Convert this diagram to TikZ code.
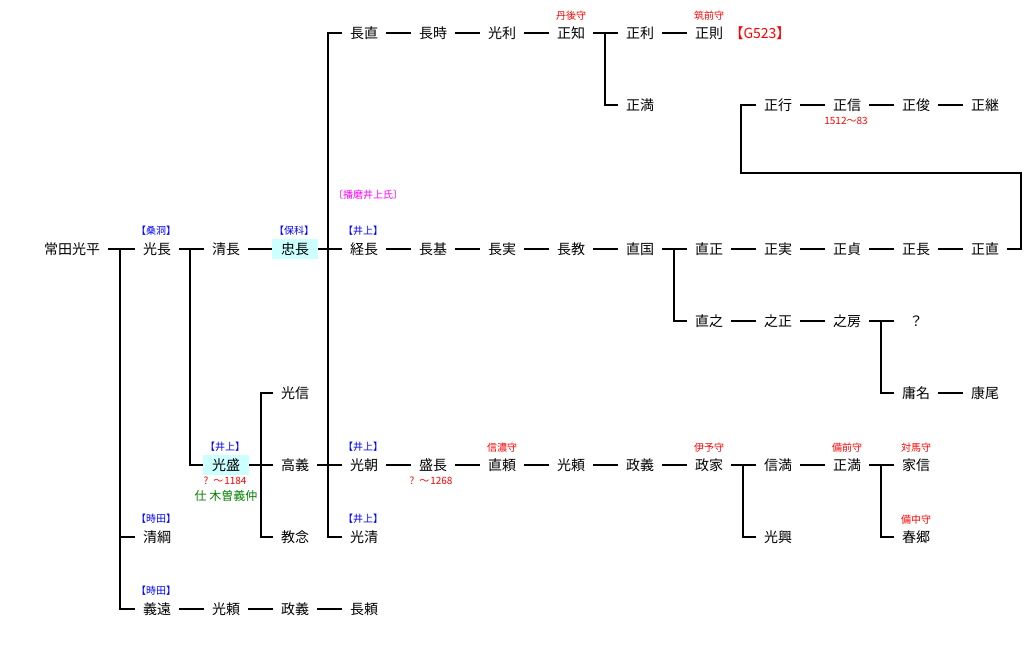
\documentclass[tikz,border=0pt]{standalone}
\usepackage{fontspec}
\newfontfamily\jp{Noto Sans CJK JP}
\usepackage{tikz}
\definecolor{hlcyan}{RGB}{204,255,255}
\definecolor{tagblue}{RGB}{0,0,255}
\definecolor{tagred}{RGB}{255,0,0}
\definecolor{tagpink}{RGB}{255,0,255}
\definecolor{taggreen}{RGB}{0,128,0}
\tikzset{
  person/.style={
    font=\jp\fontsize{14}{14}\selectfont,
    inner xsep=8pt,
    inner ysep=2pt
  },
  hl/.style={
    person,
    fill=hlcyan,
    inner xsep=9pt,
    minimum height=20pt
  },
  tag/.style={
    font=\jp\fontsize{10}{10}\selectfont,
    inner sep=0pt
  }
}
\tikzstyle{link} = [line width=1.1pt]
\def\clan#1{\textcolor{tagblue}{#1}}
\def\post#1{\textcolor{tagred}{#1}}

\begin{document}
\begin{tikzpicture}[x=1pt, y=-1pt]
    \useasboundingbox (0,0) rectangle (1029,646);
    \node[person] (hei) at (72, 249) {常田光平};
    \node[person] (mitsunaga) at (157, 249) {光長};
    \node[person] (kiyonaga) at (226, 249) {清長};
    \node[hl] (tadanaga) at (295, 249) {忠長};
    \node[person] (tsunenaga) at (364, 249) {経長};
    \node[person] (nagamoto) at (433, 249) {長基};
    \node[person] (nagazane) at (502, 249) {長実};
    \node[person] (naganori) at (571, 249) {長教};
    \node[person] (naokuni) at (640, 249) {直国};
    \node[person] (naomasa) at (709, 249) {直正};
    \node[person] (masazane) at (778, 249) {正実};
    \node[person] (masasada) at (847, 249) {正貞};
    \node[person] (masanaga) at (916, 249) {正長};
    \node[person] (masanao) at (985, 249) {正直};
    \node[person] (naganao) at (364, 33) {長直};
    \node[person] (nagatoki) at (433, 33) {長時};
    \node[person] (mitsutoshi) at (502, 33) {光利};
    \node[person] (masatomo) at (571, 33) {正知};
    \node[person] (masatoshi) at (640, 33) {正利};
    \node[person] (masanori) at (709, 33) {正則};
    \node[person, text=tagred] (g523) at (760, 33) {【G523】};
    \node[person] (masamitsu) at (640, 105) {正満};
    \node[person] (masayuki) at (778, 105) {正行};
    \node[person] (masanobu) at (847, 105) {正信};
    \node[person] (masatoshib) at (916, 105) {正俊};
    \node[person] (masatsugu) at (985, 105) {正継};
    \node[person] (naoyuki) at (709, 321) {直之};
    \node[person] (yukimasa) at (778, 321) {之正};
    \node[person] (yukifusa) at (847, 321) {之房};
    \node[person, minimum width=44pt] (unknown) at (916, 321) {？};
    \node[person] (mitsunobu) at (295, 393) {光信};
    \node[person] (youmei) at (916, 393) {庸名};
    \node[person] (yasuo) at (985, 393) {康尾};
    \node[hl] (mitsumori) at (226, 465) {光盛};
    \node[person] (takayoshi) at (295, 465) {高義};
    \node[person] (mitsutomo) at (364, 465) {光朝};
    \node[person] (morinaga) at (433, 465) {盛長};
    \node[person] (naoyori) at (502, 465) {直頼};
    \node[person] (mitsuyori) at (571, 465) {光頼};
    \node[person] (masayoshi) at (640, 465) {政義};
    \node[person] (masaie) at (709, 465) {政家};
    \node[person] (nobumitsu) at (778, 465) {信満};
    \node[person] (masamitsub) at (847, 465) {正満};
    \node[person] (ienobu) at (916, 465) {家信};
    \node[person] (kiyotsuna) at (157, 537) {清綱};
    \node[person] (kyounen) at (295, 537) {教念};
    \node[person] (mitsukiyo) at (364, 537) {光清};
    \node[person] (mitsuoki) at (778, 537) {光興};
    \node[person] (harusato) at (916, 537) {春郷};
    \node[person] (yoshito) at (157, 609) {義遠};
    \node[person] (mitsuyorib) at (226, 609) {光頼};
    \node[person] (masayoshib) at (295, 609) {政義};
    \node[person] (nagayori) at (364, 609) {長頼};
    \node[tag] (a0) at (156, 231) {\clan{【桑洞】}};
    \node[tag] (a1) at (294, 231) {\clan{【保科】}};
    \node[tag] (a2) at (363, 231) {\clan{【井上】}};
    \node[tag, text=tagpink] (a3) at (368, 195) {〔播磨井上氏〕};
    \node[tag] (a4) at (225, 447) {\clan{【井上】}};
    \node[tag] (a5) at (363, 447) {\clan{【井上】}};
    \node[tag] (a6) at (363, 519) {\clan{【井上】}};
    \node[tag] (a7) at (156, 519) {\clan{【時田】}};
    \node[tag] (a8) at (156, 591) {\clan{【時田】}};
    \node[tag] (a9) at (571, 16) {\post{丹後守}};
    \node[tag] (a10) at (709, 16) {\post{筑前守}};
    \node[tag] (a11) at (502, 448) {\post{信濃守}};
    \node[tag] (a12) at (709, 448) {\post{伊予守}};
    \node[tag] (a13) at (847, 448) {\post{備前守}};
    \node[tag] (a14) at (916, 448) {\post{対馬守}};
    \node[tag] (a15) at (916, 520) {\post{備中守}};
    \node[tag] (a16) at (225, 481) {\post{?\hspace{5pt}～\hspace{1pt}1184}};
    \node[tag, font=\jp\fontsize{12}{12}\selectfont, text=taggreen] (a17) at (226, 496) {仕 木曽義仲};
    \node[tag] (a18) at (431, 481) {\post{?\hspace{5pt}～\hspace{1pt}1268}};
    \node[tag] (a19) at (846, 121) {\post{1512～83}};
    \coordinate (j0) at (120, 249);
    \coordinate (j1) at (190, 249);
    \coordinate (j2) at (328, 249);
    \coordinate (j3) at (261, 465);
    \coordinate (j4) at (605, 33);
    \coordinate (j5) at (674, 249);
    \coordinate (j6) at (881, 321);
    \coordinate (j7) at (743, 465);
    \coordinate (j8) at (881, 465);
    \coordinate (k1) at (1021, 173);
    \coordinate (k2) at (741, 173);
    \draw[link] (hei) -- (mitsunaga);
    \draw[link] (j0) |- (kiyotsuna);
    \draw[link] (j0) |- (yoshito);
    \draw[link] (mitsunaga) -- (kiyonaga);
    \draw[link] (j1) |- (mitsumori);
    \draw[link] (kiyonaga) -- (tadanaga);
    \draw[link] (tadanaga) -- (tsunenaga);
    \draw[link] (naganao) -| (j2) |- (mitsukiyo);
    \draw[link] (j2) |- (mitsutomo);
    \draw[link] (tsunenaga) -- (nagamoto);
    \draw[link] (nagamoto) -- (nagazane);
    \draw[link] (nagazane) -- (naganori);
    \draw[link] (naganori) -- (naokuni);
    \draw[link] (naokuni) -- (naomasa);
    \draw[link] (j5) |- (naoyuki);
    \draw[link] (naomasa) -- (masazane);
    \draw[link] (masazane) -- (masasada);
    \draw[link] (masasada) -- (masanaga);
    \draw[link] (masanaga) -- (masanao);
    \draw[link] (masanao) -| (k1) -- (k2) |- (masayuki);
    \draw[link] (masayuki) -- (masanobu);
    \draw[link] (masanobu) -- (masatoshib);
    \draw[link] (masatoshib) -- (masatsugu);
    \draw[link] (naganao) -- (nagatoki);
    \draw[link] (nagatoki) -- (mitsutoshi);
    \draw[link] (mitsutoshi) -- (masatomo);
    \draw[link] (masatomo) -- (masatoshi);
    \draw[link] (j4) |- (masamitsu);
    \draw[link] (masatoshi) -- (masanori);
    \draw[link] (naoyuki) -- (yukimasa);
    \draw[link] (yukimasa) -- (yukifusa);
    \draw[link] (yukifusa) -- (unknown);
    \draw[link] (j6) |- (youmei);
    \draw[link] (youmei) -- (yasuo);
    \draw[link] (mitsumori) -- (takayoshi);
    \draw[link] (mitsunobu) -| (j3) |- (kyounen);
    \draw[link] (takayoshi) -- (mitsutomo);
    \draw[link] (mitsutomo) -- (morinaga);
    \draw[link] (morinaga) -- (naoyori);
    \draw[link] (naoyori) -- (mitsuyori);
    \draw[link] (mitsuyori) -- (masayoshi);
    \draw[link] (masayoshi) -- (masaie);
    \draw[link] (masaie) -- (nobumitsu);
    \draw[link] (j7) |- (mitsuoki);
    \draw[link] (nobumitsu) -- (masamitsub);
    \draw[link] (masamitsub) -- (ienobu);
    \draw[link] (j8) |- (harusato);
    \draw[link] (yoshito) -- (mitsuyorib);
    \draw[link] (mitsuyorib) -- (masayoshib);
    \draw[link] (masayoshib) -- (nagayori);
    \end{tikzpicture}
\end{document}
